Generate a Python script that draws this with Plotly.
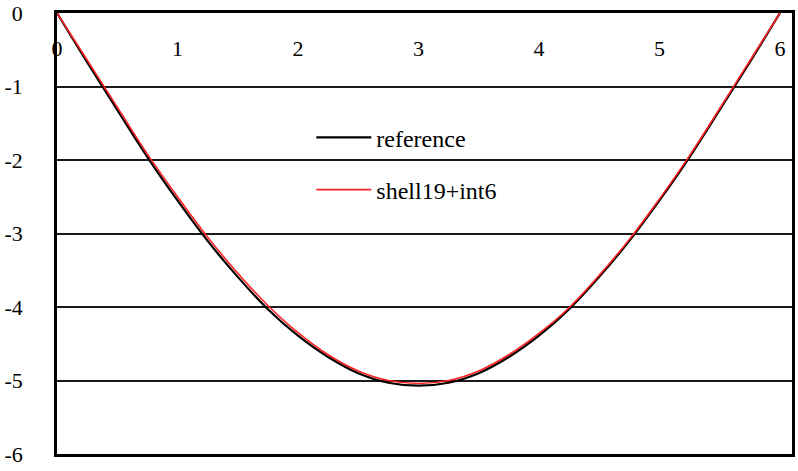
import plotly.graph_objects as go

x_vals = [0, 0.25, 0.5, 0.75, 1.0, 1.25, 1.5, 1.75, 2.0, 2.25, 2.5, 2.75, 3.0,
          3.25, 3.5, 3.75, 4.0, 4.25, 4.5, 4.75, 5.0, 5.25, 5.5, 5.75, 6.0]
reference = [0, -0.67, -1.32, -1.96, -2.55, -3.10, -3.59, -4.03, -4.39, -4.68, -4.90, -5.03, -5.07,
             -5.03, -4.90, -4.68, -4.39, -4.03, -3.59, -3.10, -2.55, -1.96, -1.32, -0.67, 0]
shell19_int6 = [0, -0.64, -1.28, -1.92, -2.50, -3.05, -3.54, -3.98, -4.35, -4.65, -4.87, -5.00, -5.04,
                -5.00, -4.87, -4.65, -4.36, -4.01, -3.57, -3.08, -2.53, -1.94, -1.30, -0.65, 0]
x_ticks = [0, 1, 2, 3, 4, 5, 6]
x_tick_labels = ["0", "1", "2", "3", "4", "5", "6"]
y_ticks = [0, -1, -2, -3, -4, -5, -6]
y_tick_labels = ["0", "-1", "-2", "-3", "-4", "-5", "-6"]

FAMILY = "Liberation Serif, serif"
font = dict(family=FAMILY, size=22, color="black")
legend_font = dict(family=FAMILY, size=24, color="black")

fig = go.Figure()
fig.add_trace(go.Scatter(x=x_vals, y=reference, mode="lines", name="reference",
                         line=dict(color="black", width=2.2, shape="spline"),
                         legendgroup="a"))
fig.add_trace(go.Scatter(x=x_vals, y=shell19_int6, mode="lines", name="shell19+int6",
                         line=dict(color="#ff2020", width=1.6, shape="spline"),
                         legendgroup="b"))
# invisible trace to carry the tick-label axis placed inside the plot
fig.add_trace(go.Scatter(x=[0, 6.1], y=[0, 0], xaxis="x2", mode="lines",
                         line=dict(width=0), showlegend=False, hoverinfo="skip"))

fig.update_layout(
    width=798, height=471,
    margin=dict(l=57, r=6, t=13, b=17),
    paper_bgcolor="white", plot_bgcolor="white",
    font=font,
    showlegend=True,
    legend=dict(x=0.346, y=0.768, xanchor="left", yanchor="top",
                bgcolor="rgba(0,0,0,0)", font=legend_font,
                tracegroupgap=18, itemwidth=55),
    xaxis=dict(range=[0, 6.1], tickvals=x_ticks, showticklabels=False, ticks="",
               showgrid=False, zeroline=False, automargin=False,
               showline=True, linecolor="black", linewidth=2.5, mirror=True),
    xaxis2=dict(range=[0, 6.1], tickvals=x_ticks, ticktext=x_tick_labels,
                overlaying="x", anchor="free",
                position=0.955, side="bottom", ticks="", showline=False,
                showgrid=False, zeroline=False, automargin=False,
                tickfont=font),
    yaxis=dict(range=[-6, 0], tickvals=y_ticks, ticktext=y_tick_labels,
               ticks="", ticklabelstandoff=27,
               automargin=False, tickfont=font,
               showgrid=True, gridcolor="#1a1a1a", gridwidth=1.5, zeroline=False,
               showline=True, linecolor="black", linewidth=2.5, mirror=True),
)

fig.write_html("out.html")
